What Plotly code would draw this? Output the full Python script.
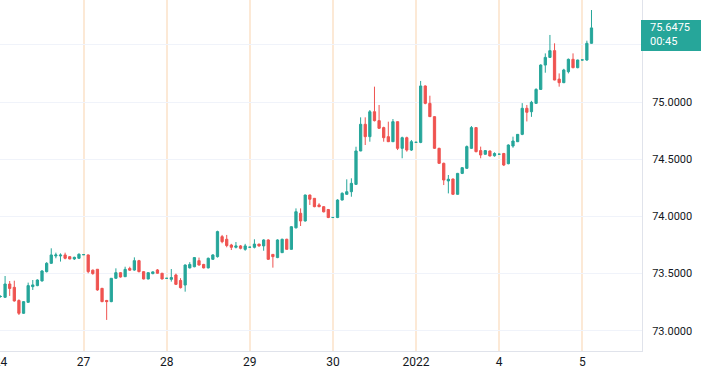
import plotly.graph_objects as go

# ---- data (hourly candles, 18 per session) ----
open_ = [73.30, 73.293, 73.409, 73.38, 73.265, 73.153, 73.249, 73.386, 73.395, 73.436,
         73.517, 73.590, 73.654, 73.654, 73.663, 73.648, 73.628, 73.634,
         73.665, 73.663, 73.53, 73.538, 73.371, 73.265, 73.255, 73.459, 73.508, 73.473,
         73.545, 73.531, 73.613, 73.517, 73.453, 73.50, 73.532, 73.503,
         73.458, 73.45, 73.488, 73.44, 73.40, 73.55, 73.56, 73.613, 73.58, 73.55,
         73.625, 73.648, 73.823, 73.80, 73.75, 73.73, 73.742, 73.712,
         73.73, 73.73, 73.758, 73.742, 73.794, 73.668, 73.64, 73.683, 73.80, 73.712,
         73.90, 74.027, 73.96, 74.187, 74.158, 74.10, 74.085, 74.06,
         73.99, 73.99, 74.143, 74.193, 74.216, 74.28, 74.572, 74.805, 74.697, 74.915,
         74.837, 74.776, 74.697, 74.653, 74.828, 74.595, 74.688, 74.58,
         74.647, 74.647, 75.14, 74.988, 74.872, 74.595, 74.464, 74.31, 74.327, 74.193,
         74.376, 74.42, 74.595, 74.776, 74.575, 74.543, 74.572, 74.53,
         74.543, 74.55, 74.461, 74.615, 74.653, 74.717, 74.945, 74.915, 74.988, 75.11,
         75.323, 75.39, 75.449, 75.20, 75.169, 75.265, 75.373, 75.30,
         75.367, 75.367, 75.513]
high = [73.31, 73.479, 73.435, 73.438, 73.275, 73.26, 73.421, 73.444, 73.45, 73.53,
        73.60, 73.721, 73.683, 73.677, 73.683, 73.652, 73.648, 73.677,
        73.667, 73.667, 73.535, 73.54, 73.375, 73.27, 73.46, 73.546, 73.512, 73.560,
        73.56, 73.642, 73.62, 73.52, 73.51, 73.52, 73.54, 73.506,
        73.46, 73.54, 73.50, 73.46, 73.58, 73.60, 73.645, 73.64, 73.585, 73.64,
        73.67, 73.875, 73.838, 73.838, 73.76, 73.776, 73.75, 73.76,
        73.732, 73.80, 73.76, 73.80, 73.80, 73.67, 73.80, 73.805, 73.805, 73.915,
        74.07, 74.07, 74.19, 74.19, 74.16, 74.115, 74.09, 74.065,
        73.992, 74.15, 74.21, 74.324, 74.333, 74.609, 74.866, 74.866, 74.93, 75.134,
        74.974, 74.784, 74.828, 74.851, 74.83, 74.697, 74.697, 74.668,
        74.649, 75.184, 75.145, 75.055, 74.875, 74.60, 74.47, 74.362, 74.33, 74.38,
        74.43, 74.62, 74.79, 74.78, 74.61, 74.58, 74.575, 74.56,
        74.545, 74.555, 74.63, 74.697, 74.72, 74.99, 74.974, 75.01, 75.12, 75.33,
        75.425, 75.586, 75.513, 75.25, 75.29, 75.38, 75.425, 75.37,
        75.369, 75.536, 75.804]
low = [73.29, 73.287, 73.305, 73.255, 73.138, 73.148, 73.245, 73.357, 73.39, 73.43,
       73.51, 73.585, 73.634, 73.605, 73.625, 73.625, 73.619, 73.63,
       73.663, 73.503, 73.49, 73.35, 73.25, 73.095, 73.25, 73.455, 73.465, 73.47,
       73.525, 73.525, 73.511, 73.45, 73.45, 73.494, 73.50, 73.45,
       73.456, 73.43, 73.40, 73.37, 73.342, 73.545, 73.555, 73.57, 73.545, 73.545,
       73.62, 73.64, 73.765, 73.73, 73.706, 73.72, 73.712, 73.70,
       73.728, 73.72, 73.735, 73.70, 73.62, 73.552, 73.635, 73.68, 73.71, 73.71,
       73.895, 73.916, 73.955, 74.10, 74.08, 74.08, 74.035, 73.985,
       73.988, 73.985, 74.14, 74.19, 74.172, 74.275, 74.57, 74.624, 74.653, 74.83,
       74.765, 74.653, 74.65, 74.65, 74.58, 74.508, 74.566, 74.572,
       74.645, 74.64, 74.98, 74.87, 74.59, 74.46, 74.274, 74.201, 74.19, 74.19,
       74.37, 74.415, 74.59, 74.56, 74.508, 74.54, 74.525, 74.522,
       74.541, 74.44, 74.455, 74.60, 74.65, 74.71, 74.83, 74.87, 74.985, 75.105,
       75.256, 75.385, 75.19, 75.134, 75.165, 75.25, 75.295, 75.295,
       75.365, 75.36, 75.51]
close = [73.30, 73.409, 73.37, 73.261, 73.153, 73.255, 73.395, 73.401, 73.444, 73.523,
         73.590, 73.663, 73.663, 73.662, 73.634, 73.628, 73.642, 73.669,
         73.666, 73.517, 73.50, 73.357, 73.255, 73.255, 73.459, 73.508, 73.470, 73.537,
         73.53, 73.613, 73.517, 73.453, 73.508, 73.515, 73.503, 73.453,
         73.459, 73.465, 73.406, 73.377, 73.575, 73.58, 73.64, 73.575, 73.55, 73.634,
         73.663, 73.867, 73.779, 73.745, 73.73, 73.742, 73.721, 73.742,
         73.731, 73.758, 73.742, 73.794, 73.625, 73.648, 73.794, 73.80, 73.712, 73.91,
         74.041, 73.96, 74.187, 74.15, 74.085, 74.085, 74.04, 73.99,
         73.991, 74.143, 74.202, 74.216, 74.289, 74.572, 74.805, 74.697, 74.915, 74.837,
         74.770, 74.688, 74.653, 74.828, 74.595, 74.688, 74.58, 74.653,
         74.648, 75.14, 74.988, 74.872, 74.595, 74.464, 74.318, 74.325, 74.193, 74.376,
         74.426, 74.61, 74.776, 74.566, 74.537, 74.575, 74.528, 74.55,
         74.544, 74.449, 74.624, 74.659, 74.717, 74.945, 74.91, 74.997, 75.11, 75.323,
         75.39, 75.449, 75.192, 75.169, 75.28, 75.373, 75.30, 75.367,
         75.368, 75.513, 75.6475]

session_start = [0, 18, 36, 54, 72, 90, 108, 126]
session_label = ["24", "27", "28", "29", "30", "2022", "4", "5"]
price_ticks = [73.0, 73.5, 74.0, 74.5, 75.0, 75.5]
# the 75.5 label sits under the last-price badge, so it is left blank
price_labels = ["73.0000", "73.5000", "74.0000", "74.5000", "75.0000", ""]
last_price = close[-1]
countdown = "00:45"

UP = "#26a69a"
DOWN = "#ef5350"
FONT = "Roboto"

x = list(range(len(close)))

fig = go.Figure(go.Candlestick(
    x=x, open=open_, high=high, low=low, close=close,
    increasing=dict(line=dict(color=UP, width=1), fillcolor=UP),
    decreasing=dict(line=dict(color=DOWN, width=1), fillcolor=DOWN),
    whiskerwidth=0, hoverinfo="skip",
))

fig.update_layout(
    width=704, height=378,
    margin=dict(l=0, r=62, t=0, b=27, autoexpand=False),
    paper_bgcolor="white", plot_bgcolor="white",
    showlegend=False,
    boxgap=0.3,
    font=dict(family=FONT, size=12, color="#131722"),
    xaxis=dict(
        range=[-0.1, 138.94],
        tickmode="array", tickvals=session_start, ticktext=session_label,
        ticklabeloverflow="allow",
        showgrid=True, gridcolor="#fce9d6", gridwidth=2,
        showline=True, linecolor="#e0e3eb", linewidth=1,
        zeroline=False, ticks="", rangeslider=dict(visible=False),
        tickfont=dict(family=FONT, size=12, color="#131722"),
    ),
    yaxis=dict(
        side="right",
        range=[72.8234, 75.8916],
        tickmode="array", tickvals=price_ticks, ticktext=price_labels,
        showgrid=True, gridcolor="#f0f3fa", gridwidth=1,
        showline=True, linecolor="#e0e3eb", linewidth=1,
        zeroline=False, ticks="", ticklabelstandoff=7,
        tickfont=dict(family=FONT, size=11, color="#131722"),
    ),
)

# last price label on the price scale
fig.add_shape(
    type="rect", xref="paper", yref="y",
    xsizemode="pixel", ysizemode="pixel",
    xanchor=1, x0=-1, x1=59,
    yanchor=last_price, y0=-23, y1=8,
    fillcolor=UP, line=dict(width=0), layer="above",
)
fig.add_annotation(
    xref="paper", yref="y", x=1, y=last_price, xanchor="left", yanchor="middle",
    xshift=6, text=f"{last_price:.4f}", showarrow=False,
    font=dict(family=FONT, size=11, color="white"),
)
fig.add_annotation(
    xref="paper", yref="y", x=1, y=last_price, xanchor="left", yanchor="middle",
    xshift=6, yshift=-14, text=countdown, showarrow=False,
    font=dict(family=FONT, size=11, color="white"),
)

fig.write_html(
    "out.html",
    config={"displayModeBar": False},
    post_script="document.body.style.margin='0';document.body.style.padding='0';",
)
